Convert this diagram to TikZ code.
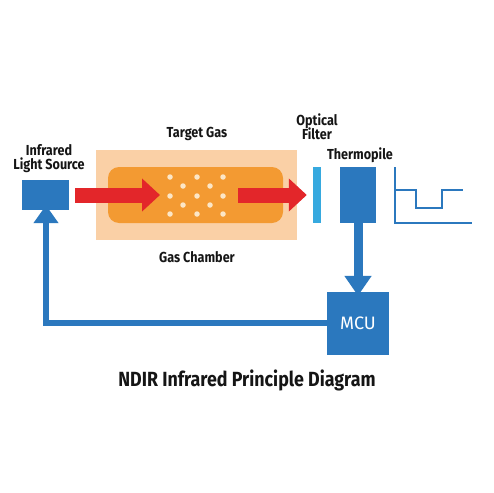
\documentclass[tikz,border=0pt]{standalone}
\usepackage{fontspec}
\setsansfont{Fira Sans}
\newfontfamily\condb[FakeStretch=0.87]{Fira Sans Bold}
\newfontfamily\condr{Fira Sans}
\usetikzlibrary{arrows.meta}
\definecolor{cblue}{HTML}{2B78BE}
\definecolor{lblue}{HTML}{36A9DF}
\definecolor{cred}{HTML}{E3262A}
\definecolor{corange}{HTML}{F39A32}
\definecolor{cpeach}{HTML}{FAD0A6}
\definecolor{cdot}{HTML}{FCE6C6}
\definecolor{ctext}{HTML}{151515}
\tikzset{
  blk/.style={fill=cblue, draw=none, inner sep=0pt},
  lbl/.style={text=ctext, font=\condb\fontsize{14.5}{15}\selectfont, align=center, inner sep=0pt},
  redarrow/.style={draw=cred, line width=15pt, -{Triangle[length=18pt,width=32pt]}},
  bluearrow/.style={draw=cblue, line width=9pt, -{Triangle[length=20pt,width=26pt]}},
  fbarrow/.style={draw=cblue, line width=6pt, miter limit=10, -{Triangle[length=18pt,width=24pt]}},
  gasdot/.style={fill=cdot, draw=none, circle, minimum size=5.5pt, inner sep=0pt},
  wave/.style={draw=cblue, line width=2pt}
}
\begin{document}
\begin{tikzpicture}[x=1pt,y=-1pt]
\useasboundingbox (0,0) rectangle (494,492);
\fill[white] (0,0) rectangle (494,492);
% chamber
\node[fill=cpeach, draw=none, minimum width=201pt, minimum height=90pt, inner sep=0pt] (chamber) at (196.5,195) {};
\node[fill=corange, draw=none, rounded corners=11pt, minimum width=175pt, minimum height=56pt, inner sep=0pt] (gas) at (195.5,195) {};
% dots
\foreach \x in {170,197,223} \foreach \y in {177,196,214} \node[gasdot] (d\x\y) at (\x,\y) {};
\foreach \x in {183,210} \foreach \y in {186,205} \node[gasdot] (d\x\y) at (\x,\y) {};
% source
\node[blk, minimum width=47pt, minimum height=30pt] (src) at (45.5,195) {};
% filter
\node[fill=lblue, draw=none, inner sep=0pt, minimum width=8pt, minimum height=56pt] (filter) at (317,195) {};
% thermopile
\node[blk, minimum width=36pt, minimum height=56pt] (thermo) at (358,195) {};
% MCU
\node[blk, minimum width=62pt, minimum height=63pt, text=white, font=\condr\fontsize{18}{18}\selectfont] (mcu) at (358,323.5) {MCU};
% labels
\node[lbl] (lsrc) at (49,159) {Infrared\\[-1pt]Light Source};
\node[lbl] (ltarget) at (197,134) {Target Gas};
\node[lbl] (lchamber) at (197,257) {Gas Chamber};
\node[lbl] (lfilter) at (317,126.5) {Optical\\[-1pt]Filter};
\node[lbl] (lthermo) at (360,155) {Thermopile};
\node[text=ctext, font=\condb\fontsize{20.5}{22}\selectfont, inner sep=0pt] (title) at (247,380) {NDIR Infrared Principle Diagram};
% red arrows
\coordinate (t1) at (160,195);
\coordinate (s2) at (238,195);
\draw[redarrow] ([xshift=6pt]src.east) -- (t1);
\draw[redarrow] (s2) -- ([xshift=-6pt]filter.west);
% down arrow
\draw[bluearrow] ([yshift=6pt]thermo.south) -- ([yshift=-4pt]mcu.north);
% feedback
\coordinate (corner) at (46,323);
\draw[fbarrow] (mcu.west |- corner) -- (corner) -- ([yshift=5pt]corner |- src.south);
% waveform
\coordinate (w0) at (395,167);
\draw[wave] (w0) -- (395,223) -- (472,223);
\draw[wave] (395,190) -- (416,190) -- (416,208) -- (442,208) -- (442,190) -- (463,190);
\end{tikzpicture}
\end{document}
